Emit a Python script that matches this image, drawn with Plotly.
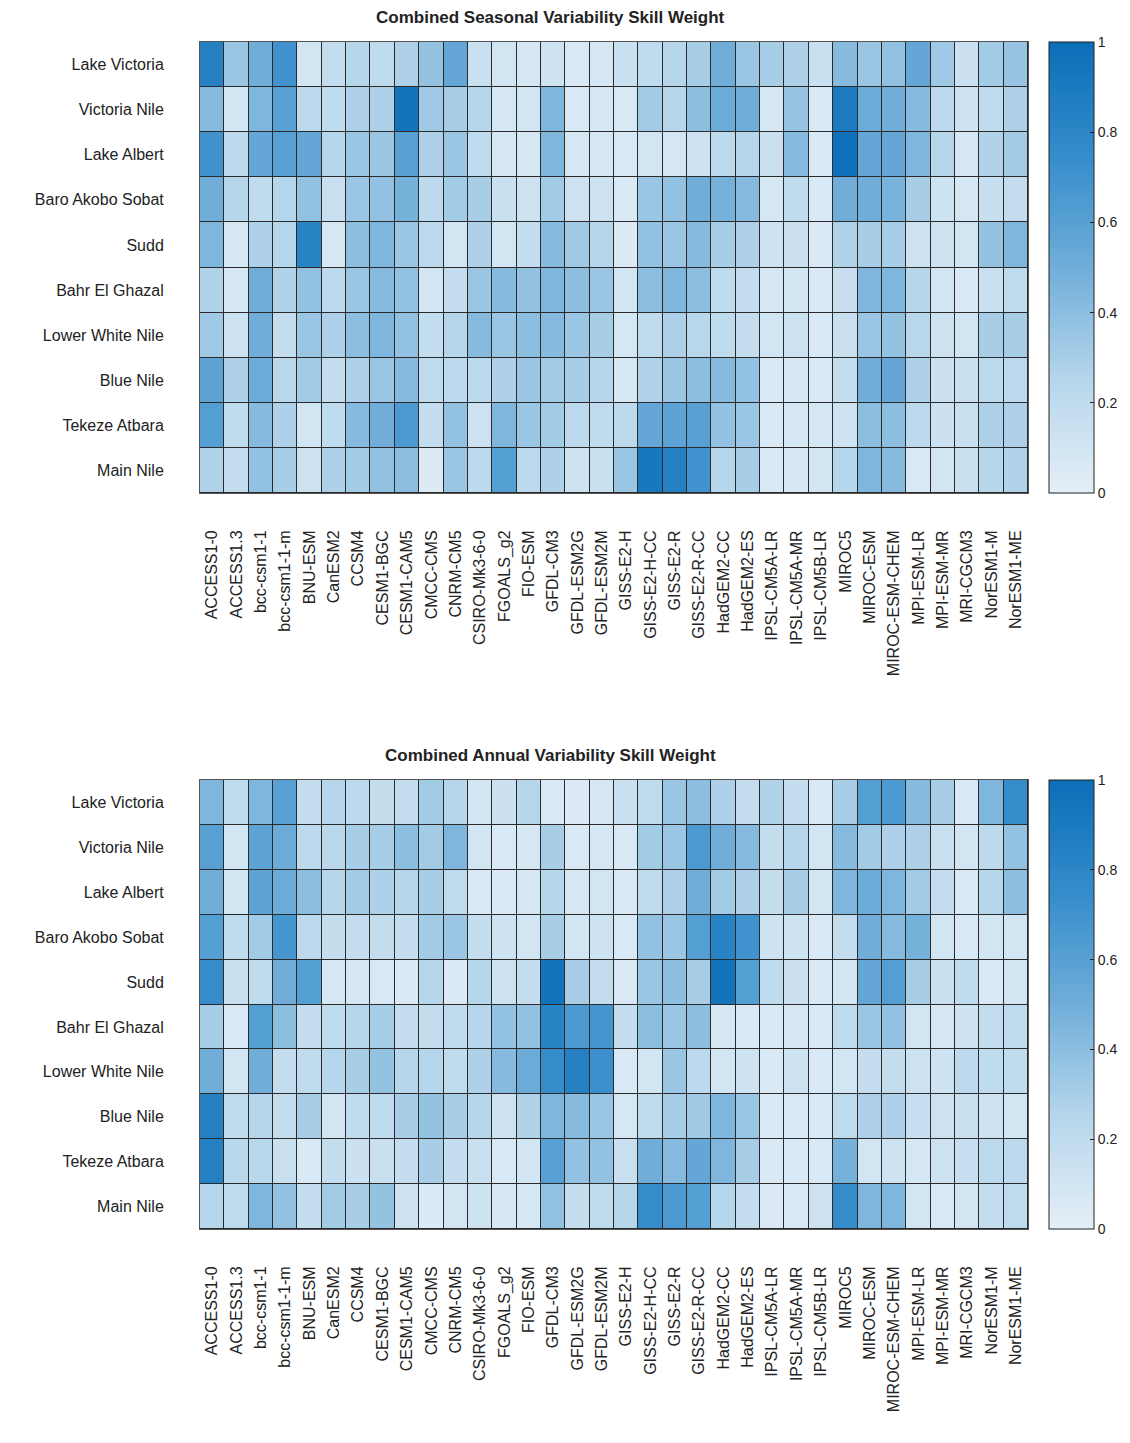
import plotly.graph_objects as go

models = ["ACCESS1-0", "ACCESS1.3", "bcc-csm1-1", "bcc-csm1-1-m", "BNU-ESM", "CanESM2", "CCSM4",
          "CESM1-BGC", "CESM1-CAM5", "CMCC-CMS", "CNRM-CM5", "CSIRO-Mk3-6-0", "FGOALS_g2", "FIO-ESM",
          "GFDL-CM3", "GFDL-ESM2G", "GFDL-ESM2M", "GISS-E2-H", "GISS-E2-H-CC", "GISS-E2-R", "GISS-E2-R-CC",
          "HadGEM2-CC", "HadGEM2-ES", "IPSL-CM5A-LR", "IPSL-CM5A-MR", "IPSL-CM5B-LR", "MIROC5", "MIROC-ESM",
          "MIROC-ESM-CHEM", "MPI-ESM-LR", "MPI-ESM-MR", "MRI-CGCM3", "NorESM1-M", "NorESM1-ME"]

basins = ["Lake Victoria", "Victoria Nile", "Lake Albert", "Baro Akobo Sobat", "Sudd", "Bahr El Ghazal",
          "Lower White Nile", "Blue Nile", "Tekeze Atbara", "Main Nile"]

seasonal = [
    [0.85, 0.35, 0.50, 0.70, 0.10, 0.18, 0.25, 0.20, 0.28, 0.37, 0.55, 0.15, 0.10, 0.08, 0.12, 0.07, 0.08,
     0.15, 0.20, 0.25, 0.30, 0.50, 0.35, 0.30, 0.28, 0.15, 0.42, 0.35, 0.38, 0.55, 0.33, 0.14, 0.32, 0.36],
    [0.42, 0.10, 0.45, 0.60, 0.22, 0.20, 0.28, 0.28, 0.95, 0.33, 0.30, 0.25, 0.08, 0.10, 0.45, 0.07, 0.08,
     0.07, 0.32, 0.25, 0.40, 0.52, 0.50, 0.08, 0.36, 0.07, 0.90, 0.52, 0.50, 0.42, 0.22, 0.12, 0.20, 0.28],
    [0.70, 0.22, 0.55, 0.60, 0.55, 0.25, 0.35, 0.35, 0.60, 0.28, 0.35, 0.20, 0.08, 0.08, 0.45, 0.08, 0.08,
     0.07, 0.10, 0.08, 0.12, 0.22, 0.25, 0.15, 0.42, 0.07, 0.98, 0.55, 0.55, 0.45, 0.25, 0.08, 0.27, 0.32],
    [0.50, 0.25, 0.20, 0.25, 0.38, 0.15, 0.35, 0.38, 0.48, 0.22, 0.32, 0.30, 0.15, 0.13, 0.32, 0.13, 0.13,
     0.07, 0.35, 0.38, 0.50, 0.48, 0.42, 0.08, 0.20, 0.07, 0.50, 0.50, 0.47, 0.30, 0.12, 0.08, 0.16, 0.18],
    [0.45, 0.08, 0.28, 0.25, 0.82, 0.08, 0.40, 0.45, 0.35, 0.22, 0.10, 0.28, 0.10, 0.17, 0.42, 0.33, 0.25,
     0.05, 0.38, 0.35, 0.42, 0.30, 0.28, 0.12, 0.14, 0.06, 0.27, 0.30, 0.30, 0.12, 0.13, 0.10, 0.37, 0.45],
    [0.27, 0.08, 0.50, 0.27, 0.38, 0.22, 0.35, 0.42, 0.38, 0.10, 0.18, 0.35, 0.42, 0.38, 0.45, 0.40, 0.35,
     0.10, 0.40, 0.45, 0.40, 0.20, 0.18, 0.08, 0.10, 0.07, 0.16, 0.45, 0.45, 0.25, 0.10, 0.07, 0.15, 0.20],
    [0.33, 0.13, 0.50, 0.17, 0.35, 0.28, 0.40, 0.45, 0.38, 0.17, 0.25, 0.42, 0.35, 0.40, 0.42, 0.35, 0.30,
     0.08, 0.20, 0.28, 0.24, 0.20, 0.18, 0.10, 0.13, 0.07, 0.15, 0.35, 0.37, 0.24, 0.13, 0.10, 0.30, 0.30],
    [0.58, 0.28, 0.52, 0.23, 0.32, 0.18, 0.28, 0.35, 0.42, 0.20, 0.22, 0.22, 0.28, 0.35, 0.32, 0.30, 0.25,
     0.08, 0.27, 0.35, 0.40, 0.42, 0.38, 0.07, 0.08, 0.07, 0.17, 0.50, 0.55, 0.28, 0.14, 0.15, 0.22, 0.22],
    [0.62, 0.20, 0.42, 0.28, 0.10, 0.20, 0.42, 0.50, 0.65, 0.18, 0.38, 0.13, 0.45, 0.35, 0.32, 0.22, 0.20,
     0.22, 0.55, 0.58, 0.60, 0.38, 0.35, 0.07, 0.08, 0.08, 0.12, 0.40, 0.40, 0.22, 0.14, 0.15, 0.28, 0.28],
    [0.27, 0.18, 0.38, 0.30, 0.13, 0.28, 0.32, 0.38, 0.40, 0.05, 0.35, 0.22, 0.62, 0.22, 0.28, 0.12, 0.15,
     0.35, 0.92, 0.85, 0.70, 0.25, 0.30, 0.07, 0.08, 0.10, 0.25, 0.45, 0.42, 0.07, 0.10, 0.15, 0.25, 0.27],
]

annual = [
    [0.45, 0.20, 0.45, 0.60, 0.18, 0.25, 0.22, 0.18, 0.18, 0.32, 0.25, 0.10, 0.14, 0.25, 0.07, 0.06, 0.08,
     0.15, 0.20, 0.35, 0.40, 0.28, 0.18, 0.27, 0.17, 0.07, 0.30, 0.62, 0.65, 0.42, 0.30, 0.07, 0.45, 0.75],
    [0.60, 0.10, 0.58, 0.52, 0.22, 0.23, 0.30, 0.30, 0.40, 0.32, 0.45, 0.10, 0.07, 0.08, 0.30, 0.07, 0.08,
     0.07, 0.32, 0.35, 0.65, 0.50, 0.42, 0.18, 0.25, 0.10, 0.42, 0.32, 0.28, 0.28, 0.15, 0.10, 0.22, 0.38],
    [0.50, 0.10, 0.58, 0.52, 0.40, 0.25, 0.32, 0.28, 0.25, 0.30, 0.20, 0.07, 0.06, 0.08, 0.25, 0.08, 0.10,
     0.07, 0.20, 0.28, 0.50, 0.32, 0.28, 0.17, 0.30, 0.10, 0.45, 0.52, 0.45, 0.32, 0.18, 0.07, 0.25, 0.40],
    [0.62, 0.20, 0.32, 0.68, 0.22, 0.17, 0.18, 0.18, 0.17, 0.32, 0.35, 0.17, 0.12, 0.10, 0.30, 0.10, 0.12,
     0.07, 0.38, 0.35, 0.62, 0.82, 0.70, 0.12, 0.12, 0.07, 0.18, 0.50, 0.42, 0.48, 0.10, 0.07, 0.10, 0.10],
    [0.75, 0.15, 0.20, 0.50, 0.62, 0.08, 0.08, 0.07, 0.06, 0.25, 0.05, 0.25, 0.13, 0.17, 0.95, 0.30, 0.18,
     0.07, 0.35, 0.40, 0.30, 0.95, 0.62, 0.20, 0.14, 0.07, 0.10, 0.55, 0.62, 0.30, 0.14, 0.20, 0.06, 0.10],
    [0.30, 0.06, 0.62, 0.40, 0.18, 0.20, 0.25, 0.30, 0.18, 0.18, 0.20, 0.25, 0.38, 0.38, 0.82, 0.65, 0.68,
     0.17, 0.40, 0.35, 0.40, 0.08, 0.06, 0.07, 0.08, 0.07, 0.20, 0.35, 0.38, 0.10, 0.08, 0.12, 0.18, 0.20],
    [0.50, 0.10, 0.50, 0.17, 0.20, 0.25, 0.30, 0.37, 0.25, 0.25, 0.20, 0.28, 0.42, 0.52, 0.75, 0.85, 0.72,
     0.07, 0.10, 0.35, 0.22, 0.10, 0.12, 0.07, 0.12, 0.07, 0.10, 0.17, 0.18, 0.13, 0.12, 0.22, 0.20, 0.20],
    [0.85, 0.20, 0.25, 0.17, 0.30, 0.10, 0.20, 0.20, 0.30, 0.37, 0.30, 0.25, 0.12, 0.27, 0.45, 0.42, 0.35,
     0.08, 0.20, 0.30, 0.33, 0.45, 0.35, 0.07, 0.07, 0.07, 0.20, 0.28, 0.28, 0.16, 0.13, 0.15, 0.12, 0.10],
    [0.85, 0.23, 0.23, 0.15, 0.07, 0.17, 0.14, 0.15, 0.17, 0.30, 0.17, 0.15, 0.07, 0.10, 0.60, 0.38, 0.38,
     0.15, 0.50, 0.42, 0.55, 0.45, 0.30, 0.07, 0.07, 0.07, 0.48, 0.10, 0.12, 0.08, 0.13, 0.16, 0.22, 0.22],
    [0.25, 0.20, 0.45, 0.38, 0.17, 0.32, 0.30, 0.37, 0.12, 0.05, 0.10, 0.12, 0.08, 0.08, 0.38, 0.17, 0.20,
     0.25, 0.75, 0.65, 0.62, 0.25, 0.18, 0.06, 0.07, 0.13, 0.75, 0.45, 0.45, 0.10, 0.07, 0.10, 0.17, 0.20],
]

titles = ["Combined Seasonal Variability Skill Weight", "Combined Annual Variability Skill Weight"]
cbar_ticks = [0, 0.2, 0.4, 0.6, 0.8, 1]
cbar_text = ["0", "0.2", "0.4", "0.6", "0.8", "1"]

colorscale = [
    [0.0, "rgb(229,239,248)"],
    [0.25, "rgb(182,214,235)"],
    [0.5, "rgb(112,174,217)"],
    [0.75, "rgb(52,140,203)"],
    [1.0, "rgb(11,110,184)"],
]

W, H = 1130, 1443
OFF = 8  # page body margin offset
L = 200 - OFF
R = W - (1028 - OFF)
plot_w = W - L - R
panels = [(42 - OFF, 493 - OFF), (780 - OFF, 1229 - OFF)]  # pixel top/bottom of each panel

FONT = "Liberation Sans, Arial, sans-serif"
fig = go.Figure()

for i, (z, (top, bot)) in enumerate(zip([seasonal, annual], panels)):
    xa = "x" if i == 0 else "x2"
    ya = "y" if i == 0 else "y2"
    fig.add_trace(go.Heatmap(
        z=z, x=models, y=basins, xaxis=xa, yaxis=ya,
        zmin=0, zmax=1, colorscale=colorscale, xgap=1, ygap=1,
        colorbar=dict(
            x=(1049 - OFF - L) / plot_w, xanchor="left", xref="paper", xpad=0, ypad=0,
            y=1 - (top + bot) / 2 / H, yanchor="middle", len=(bot - top) / H, lenmode="fraction",
            thickness=45, thicknessmode="pixels",
            outlinewidth=1, outlinecolor="#222",
            tickvals=cbar_ticks, ticktext=cbar_text, ticks="inside", ticklen=4, tickcolor="#222",
            tickfont=dict(family=FONT, size=14, color="#222"),
        ),
    ))
    dom = [1 - bot / H, 1 - top / H]
    axis_common = dict(showline=True, linecolor="#555", linewidth=1, mirror=True, ticks="", showgrid=False,
                       zeroline=False, automargin=False)
    fig.layout[("xaxis" if i == 0 else "xaxis2")] = dict(
        domain=[0, 1], anchor=ya, tickangle=-90, ticklabelstandoff=30,
        tickfont=dict(family=FONT, size=16, color="#222"), **axis_common)
    fig.layout[("yaxis" if i == 0 else "yaxis2")] = dict(
        domain=dom, anchor=xa, autorange="reversed", ticklabelstandoff=32,
        tickfont=dict(family=FONT, size=16, color="#222"), **axis_common)
    fig.add_annotation(text="<b>" + titles[i] + "</b>", xref="paper", yref="paper",
                       x=(550 - OFF - L) / plot_w, y=1 - (top - 25) / H, xanchor="center", yanchor="middle",
                       showarrow=False, font=dict(family=FONT, size=17, color="#222"))

fig.update_layout(
    width=W, height=H, margin=dict(l=L, r=R, t=0, b=0, autoexpand=False),
    paper_bgcolor="white", plot_bgcolor="#2a2a2a",
)

fig.write_html("out.html")
